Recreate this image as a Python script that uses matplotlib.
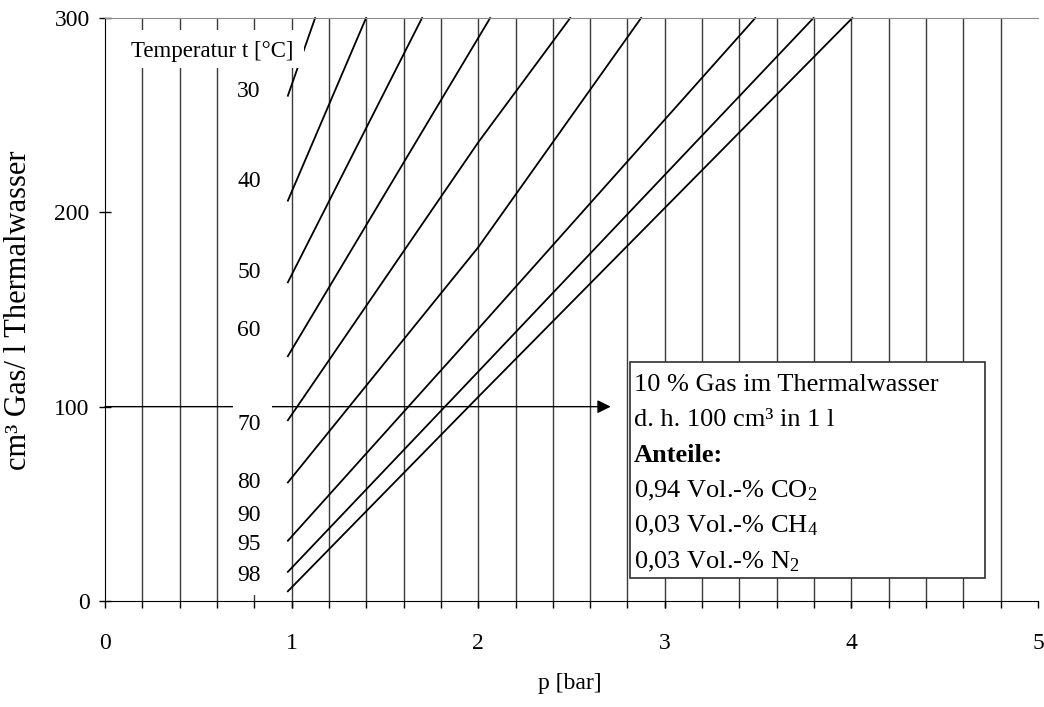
import numpy as np
import matplotlib
matplotlib.use("Agg")
import matplotlib.pyplot as plt
from matplotlib.patches import Rectangle
from matplotlib.ticker import MultipleLocator, FixedLocator

plt.rcParams['font.family'] = ['Liberation Serif', 'DejaVu Serif']
plt.rcParams['mathtext.default'] = 'regular'

# gas solubility curves, one per temperature
temps = [30, 40, 50, 60, 70, 80, 90, 95, 98]
p_start = 0.98
v_start = [260, 206, 164, 126, 93, 61, 31, 15, 5]      # cm3/l at p_start
p_mid = 2.0
v_mid = [None, None, None, None, 236, 182, 140, 118, 105]  # cm3/l at p = 2 bar
p_top = [1.126, 1.399, 1.699, 2.064, 2.493, 2.873, 3.485, 3.797, 4.005]  # p where 300 cm3/l is reached
v_top = 300

label_y = [262, 216, 169, 139, 91, 61, 44, 29, 13]

gas_level = 100     # 10 % gas -> 100 cm3 in 1 l
arrow_end = 2.71

box_lines = [
    ("10 % Gas im Thermalwasser", 'normal'),
    ("d. h. 100 cm³ in 1 l", 'normal'),
    ("Anteile:", 'bold'),
    ("0,94 Vol.-% CO$_2$", 'normal'),
    ("0,03 Vol.-% CH$_4$", 'normal'),
    ("0,03 Vol.-% N$_2$", 'normal'),
]

fig = plt.figure(figsize=(10.44, 7.07), dpi=100)
ax = fig.add_axes([105 / 1044, 1 - 601 / 707, 933 / 1044, 583 / 707])
ax.set_xlim(0, 5)
ax.set_ylim(0, 300)

# vertical grid every 0.2 bar, none on the right border
ax.xaxis.set_major_locator(MultipleLocator(1))
ax.xaxis.set_minor_locator(FixedLocator(np.arange(1, 25) * 0.2))
ax.xaxis.remove_overlapping_locs = False
ax.yaxis.set_major_locator(MultipleLocator(100))
ax.grid(which='minor', axis='x', color='#3a3a3a', lw=1.0, zorder=1)
ax.set_axisbelow(True)

ax.spines['right'].set_visible(False)
ax.spines['top'].set_color('#8c8c8c')
ax.spines['left'].set_color('black')
ax.spines['bottom'].set_color('black')

ax.tick_params(axis='x', which='both', direction='out', length=5, width=1, pad=18, labelsize=17)
ax.tick_params(axis='y', which='major', direction='inout', length=8, width=1, pad=7, labelsize=17)

for i, t in enumerate(temps):
    ps = [p_start]
    vs = [v_start[i]]
    if v_mid[i] is not None and p_top[i] > p_mid:
        ps.append(p_mid)
        vs.append(v_mid[i])
    ps.append(p_top[i])
    vs.append(v_top)
    ax.plot(ps, vs, color='black', lw=1.3, zorder=2, clip_on=False)

ax.annotate('', xy=(arrow_end, gas_level), xytext=(0, gas_level),
            arrowprops=dict(arrowstyle='-|>', color='black', lw=1.0, mutation_scale=20,
                            shrinkA=0, shrinkB=0), zorder=2)

# white backing behind the temperature labels
ax.add_patch(Rectangle((0.107, 274.3), 0.96, 19.6, facecolor='white', edgecolor='none', zorder=3))
ax.add_patch(Rectangle((0.686, 3.1), 0.209, 271.2, facecolor='white', edgecolor='none', zorder=3))

ax.text(0.576, 283, "Temperatur t [°C]", ha='center', va='center', fontsize=16.5, zorder=4)
for t, y in zip(temps, label_y):
    ax.text(0.772, y, str(t), ha='center', va='center', fontsize=17, zorder=4)

# info box
ax.add_patch(Rectangle((2.811, 11.9), 1.907, 111.3, facecolor='white',
                       edgecolor='#303030', lw=1.2, zorder=3))
for k, (line, weight) in enumerate(box_lines):
    ax.text(2.836, 111.2 - 18.2 * k, line, ha='left', va='center', fontsize=19,
            fontweight=weight, zorder=4)

fig.text(570 / 1044, 1 - 683 / 707, "p [bar]", ha='center', va='center', fontsize=17)
fig.text(19 / 1044, 1 - 310 / 707, "cm³ Gas/ l Thermalwasser", ha='center', va='center',
         rotation=90, fontsize=22)

fig.savefig("out.png", dpi=100, facecolor='white')
